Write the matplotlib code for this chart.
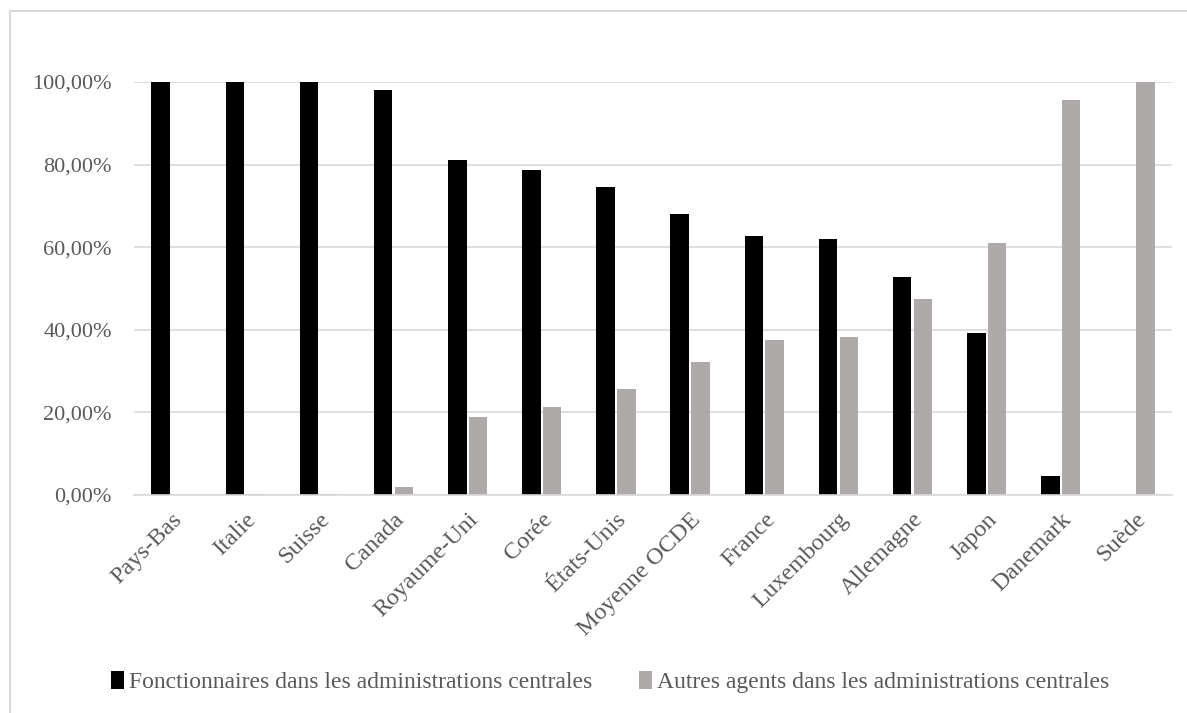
import numpy as np
import matplotlib
matplotlib.use('Agg')
from matplotlib import pyplot as plt
from matplotlib.ticker import FuncFormatter

# Part des fonctionnaires / autres agents dans les administrations centrales
pays = ['Pays-Bas', 'Italie', 'Suisse', 'Canada', 'Royaume-Uni', 'Corée',
        'États-Unis', 'Moyenne OCDE', 'France', 'Luxembourg', 'Allemagne',
        'Japon', 'Danemark', 'Suède']
fonctionnaires = [100.0, 100.0, 100.0, 98.1, 81.2, 78.7, 74.5, 68.0, 62.6,
                  62.0, 52.8, 39.2, 4.6, 0.0]
autres_agents = [0.0, 0.3, 0.3, 1.9, 18.9, 21.4, 25.7, 32.1, 37.5, 38.2,
                 47.4, 61.0, 95.6, 100.0]

label_fonc = 'Fonctionnaires dans les administrations centrales'
label_autres = 'Autres agents dans les administrations centrales'

TXT = '#595959'
GRID = '#d9d9d9'

plt.rcParams['font.family'] = ['Liberation Serif', 'DejaVu Serif']

fig = plt.figure(figsize=(11.87, 7.13), dpi=100)
ax = fig.add_axes([0.1129, 0.3058, 0.8745, 0.5792])

x = np.arange(len(pays))
w = 0.25
off = 0.14
ax.bar(x - off, np.array(fonctionnaires) / 100, w, color='#000000',
       label=label_fonc, zorder=3)
ax.bar(x + off, np.array(autres_agents) / 100, w, color='#aeaaaa',
       label=label_autres, zorder=3)

ax.set_xlim(-0.5, len(pays) - 0.5)
ax.set_ylim(0, 1.0)
ax.set_yticks(np.arange(0, 1.01, 0.2))
ax.yaxis.set_major_formatter(
    FuncFormatter(lambda v, p: f'{v * 100:.2f}'.replace('.', ',') + '%'))
ax.grid(axis='y', color=GRID, linewidth=1.2, zorder=0)
for s in ['top', 'right', 'left']:
    ax.spines[s].set_visible(False)
ax.spines['bottom'].set_color(GRID)
ax.spines['bottom'].set_linewidth(1.2)
ax.spines['bottom'].set_zorder(4)

ax.set_xticks(x)
ax.set_xticklabels(pays, rotation=45, ha='right', rotation_mode='anchor')
ax.tick_params(axis='both', length=0, labelcolor=TXT)
ax.tick_params(axis='x', pad=10, labelsize=17.5)
ax.tick_params(axis='y', pad=16, labelsize=16)

leg = fig.legend(loc='center', bbox_to_anchor=(0.514, 0.043), ncol=2,
                 frameon=False, fontsize=17, handlelength=0.55,
                 handleheight=0.75, handletextpad=0.2, columnspacing=2.0)
for t in leg.get_texts():
    t.set_color(TXT)

# cadre du graphique (haut et gauche visibles)
fig.add_artist(plt.Line2D([10 / 1187, 1], [1 - 11 / 713, 1 - 11 / 713],
                          transform=fig.transFigure, color=GRID, lw=1.5))
fig.add_artist(plt.Line2D([10 / 1187, 10 / 1187], [0, 1 - 11 / 713],
                          transform=fig.transFigure, color=GRID, lw=1.5))

fig.savefig('out.png', dpi=100)
